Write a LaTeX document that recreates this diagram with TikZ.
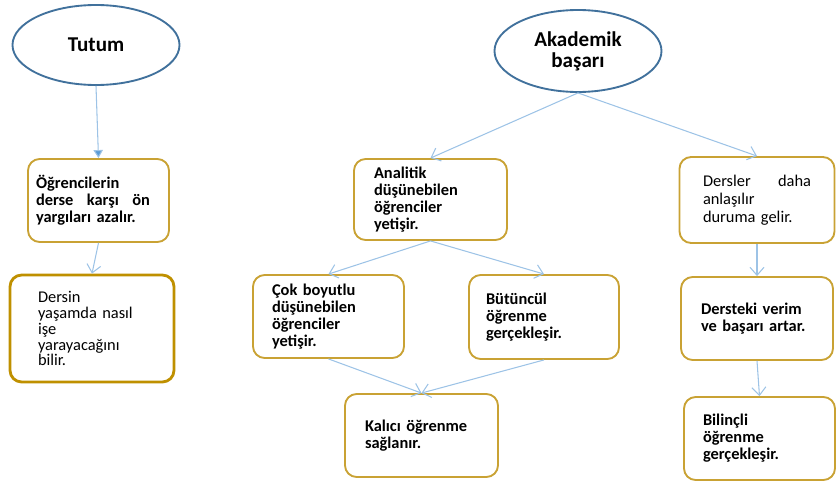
\documentclass[tikz,border=0pt]{standalone}
\usepackage{fontspec}
\setmainfont{Carlito}
\usepackage{xcolor}
\usepackage{tikz}
\usetikzlibrary{arrows.meta,shapes.geometric}
\definecolor{ovblue}{HTML}{41719C}
\definecolor{bxgold}{HTML}{C9A234}
\definecolor{bxgolddk}{HTML}{BF9000}
\definecolor{arblue}{HTML}{9DC3E6}
\definecolor{tipblue}{HTML}{5B9BD5}
\tikzset{
  ovnode/.style={ellipse,draw=ovblue,line width=1.6pt,minimum width=5.01cm,minimum height=2.4cm,inner sep=0pt,align=center,font=\fontsize{18}{18}\selectfont\bfseries},
  bxnode/.style={draw=bxgold,line width=1.6pt,rounded corners=3.5mm,inner sep=0pt,align=left,font=\fontsize{14}{14.5}\selectfont\bfseries},
  bxplain/.style={bxnode,font=\fontsize{14}{14}\selectfont},
  arredge/.style={-{Straight Barb[length=2.4mm,width=4.2mm]},line width=0.9pt,arblue},
  tutedge/.style={-{Triangle[length=2.4mm,width=2.8mm,fill=tipblue]},line width=0.9pt,arblue},
}
\begin{document}
\begin{tikzpicture}
  \useasboundingbox (0,0) rectangle (25.08,-14.49);
  \node[ovnode] (nTutum) at (2.88,-1.35) {Tutum};
  \node[ovnode,minimum height=2.46cm] (nAkad) at (17.34,-1.53) {Akademik\\başarı};
  \node[bxnode,minimum width=4.23cm,minimum height=2.49cm,text width=3.75cm] (nOnyargi) at (2.955,-6.015) {Öğrencilerin\\\makebox[3.42cm][l]{derse\hfill karşı\hfill ön}\\yargıları azalır.};
  \node[bxplain,draw=bxgolddk,line width=2.4pt,minimum width=4.92cm,minimum height=3.21cm,text width=3.24cm,font=\fontsize{14}{13.6}\selectfont] (nYasam) at (2.76,-9.855) {Dersin\\yaşamda nasıl\\işe\\yarayacağını\\bilir.};
  \node[bxnode,minimum width=4.59cm,minimum height=2.43cm,text width=3.39cm] (nAnalitik) at (12.915,-5.985) {Analitik\\düşünebilen\\öğrenciler\\yetişir.};
  \node[bxplain,minimum width=4.65cm,minimum height=2.58cm,text width=3.24cm,font=\fontsize{14}{15.3}\selectfont] (nAnlasilir) at (22.71,-6.0) {\makebox[3.24cm][l]{Dersler\hfill daha}\\anlaşılır\\duruma gelir.};
  \node[bxnode,minimum width=4.53cm,minimum height=2.49cm,text width=3.39cm] (nCokboyut) at (9.855,-9.495) {Çok boyutlu\\düşünebilen\\öğrenciler\\yetişir.};
  \node[bxnode,minimum width=4.5cm,minimum height=2.52cm,text width=3.48cm] (nButuncul) at (16.32,-9.51) {Bütüncül\\öğrenme\\gerçekleşir.};
  \node[bxnode,minimum width=4.59cm,minimum height=2.49cm,text width=3.39cm] (nKalici) at (12.645,-13.065) {Kalıcı öğrenme\\sağlanır.};
  \node[bxnode,minimum width=4.56cm,minimum height=2.49cm,text width=3.36cm] (nVerim) at (22.71,-9.555) {Dersteki verim\\ve başarı artar.};
  \node[bxnode,minimum width=4.53cm,minimum height=2.49cm,text width=3.39cm] (nBilincli) at (22.785,-13.155) {Bilinçli\\öğrenme\\gerçekleşir.};
  \draw[tutedge] (nTutum.south) -- (nOnyargi.north);
  \draw[arredge] (nOnyargi.south) -- (nYasam.north);
  \draw[arredge] (nAkad.south) -- (nAnalitik.north);
  \draw[arredge] (nAkad.south) -- (nAnlasilir.north);
  \draw[arredge] (nAnalitik.south) -- (nCokboyut.north);
  \draw[arredge] (nAnalitik.south) -- (nButuncul.north);
  \draw[arredge] (nCokboyut.south) -- (nKalici.north);
  \draw[arredge] (nButuncul.south) -- (nKalici.north);
  \draw[arredge] (nAnlasilir.south) -- (nVerim.north);
  \draw[arredge] (nVerim.south) -- (nBilincli.north);
\end{tikzpicture}
\end{document}
